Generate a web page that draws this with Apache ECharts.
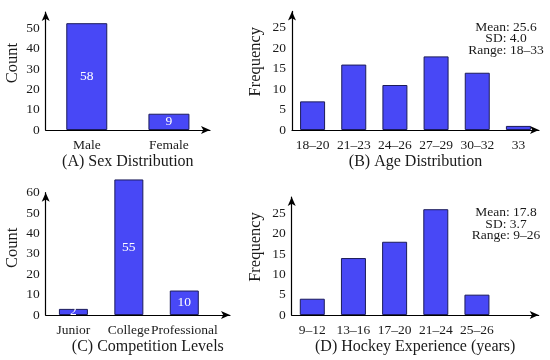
<!DOCTYPE html>
<html>
<head>
<meta charset="utf-8">
<script src="https://cdn.jsdelivr.net/npm/echarts@6/dist/echarts.min.js"></script>
<style>html,body{margin:0;padding:0;background:#fff}#c{width:550px;height:360px}</style>
</head>
<body>
<div id="c"></div>
<script>
// Panel A
const sexCats = ['Male', 'Female'];
const sexBars = [52.5, 8];
const sexLabels = ['58', '9'];
// Panel B
const ageCats = ['18–20', '21–23', '24–26', '27–29', '30–32', '33'];
const ageFreq = [7, 16, 11, 18, 14, 1];
const ageStats = ['Mean: 25.6', 'SD: 4.0', 'Range: 18–33'];
// Panel C
const levelCats = ['Junior', 'College', 'Professional'];
const levelBars = [3, 66.5, 12];
const levelLabels = ['2', '55', '10'];
// Panel D
const expCats = ['9–12', '13–16', '17–20', '21–24', '25–26', ''];
const expFreq = [4, 14, 18, 26, 5];
const expStats = ['Mean: 17.8', 'SD: 3.7', 'Range: 9–26'];

const FONT = 'Liberation Serif';
const TXT = '#1a1a1a';
const FILL = '#4848f6';
const EDGE = '#1c1c5a';

const chart = echarts.init(document.getElementById('c'), null, {renderer: 'canvas'});

function axisLineStyle(){
  return {show: true, symbol: ['none', 'arrow'], symbolSize: [6, 9], lineStyle: {color: '#000', width: 1.2}};
}
function xCat(gi, cats, name, showLine){
  return {
    gridIndex: gi, type: 'category', data: cats, boundaryGap: true,
    axisLine: showLine ? axisLineStyle() : {show: false},
    axisTick: {show: false},
    axisLabel: {fontFamily: FONT, fontSize: 13.5, color: TXT, margin: 8, interval: 0},
    name: name, nameLocation: 'middle', nameGap: 24,
    nameTextStyle: {fontFamily: FONT, fontSize: 16, color: TXT}
  };
}
function yVal(gi, max, interval, name, gap, shift){
  return {
    gridIndex: gi, type: 'value', min: 0, max: max, interval: interval,
    axisLine: axisLineStyle(), axisTick: {show: false}, splitLine: {show: false},
    axisLabel: {fontFamily: FONT, fontSize: 13.5, color: TXT, margin: 6, showMaxLabel: max % interval === 0},
    name: name, nameLocation: 'middle', nameGap: gap, nameRotate: 90,
    nameTextStyle: {fontFamily: FONT, fontSize: 16.5, color: TXT, padding: [0, 0, 0, shift]}
  };
}
function barSeries(gi, data, width, labels){
  const s = {
    type: 'bar', xAxisIndex: gi, yAxisIndex: gi, data: data, barWidth: width, clip: false,
    itemStyle: {color: FILL, borderColor: EDGE, borderWidth: 1},
    label: {show: false}
  };
  if (labels){
    s.label = {show: true, position: 'inside', color: '#fff', fontFamily: FONT, fontSize: 13.5,
      formatter: p => labels[p.dataIndex]};
  }
  return s;
}

const option = {
  animation: false,
  grid: [
    {left: 45.7, top: 12, width: 164.3, height: 118, outerBoundsMode: 'none'},
    {left: 292, top: 11.4, width: 247, height: 118.6, outerBoundsMode: 'none'},
    {left: 45.7, top: 192.7, width: 166.3, height: 122.3, outerBoundsMode: 'none'},
    {left: 291.7, top: 197, width: 247, height: 118, outerBoundsMode: 'none'},
    {left: 45.7, top: 192.7, width: 184.3, height: 122.3, outerBoundsMode: 'none'}
  ],
  xAxis: [
    xCat(0, sexCats, '(A) Sex Distribution', true),
    xCat(1, ageCats, '(B) Age Distribution', true),
    xCat(2, levelCats, '', false),
    xCat(3, expCats, '(D) Hockey Experience (years)', true),
    {gridIndex: 4, type: 'value', min: 0, max: 1, axisLine: axisLineStyle(), axisTick: {show: false},
     axisLabel: {show: false}, splitLine: {show: false},
     name: '(C) Competition Levels', nameLocation: 'middle', nameGap: 24,
     nameTextStyle: {fontFamily: FONT, fontSize: 16, color: TXT, padding: [0, 0, 0, 20]}}
  ],
  yAxis: [
    yVal(0, 58, 10, 'Count', 25, 16),
    yVal(1, 29, 5, 'Frequency', 28, 18),
    yVal(2, 60, 10, 'Count', 25, 12),
    yVal(3, 29, 5, 'Frequency', 28, 18),
    {gridIndex: 4, type: 'value', show: false, min: 0, max: 1}
  ],
  series: [
    barSeries(0, sexBars, 41, sexLabels),
    barSeries(1, ageFreq, 25, null),
    barSeries(2, levelBars, 29, levelLabels),
    barSeries(3, expFreq, 25, null)
  ],
  graphic: [
    {type: 'text', x: 506, y: 21.5, style: {text: ageStats.join('\n'), fontFamily: FONT, fontSize: 13.5, lineHeight: 11.5, fill: TXT, align: 'center', verticalAlign: 'top'}},
    {type: 'text', x: 506, y: 207, style: {text: expStats.join('\n'), fontFamily: FONT, fontSize: 13.5, lineHeight: 11.5, fill: TXT, align: 'center', verticalAlign: 'top'}}
  ]
};
chart.setOption(option);
</script>
</body>
</html>
